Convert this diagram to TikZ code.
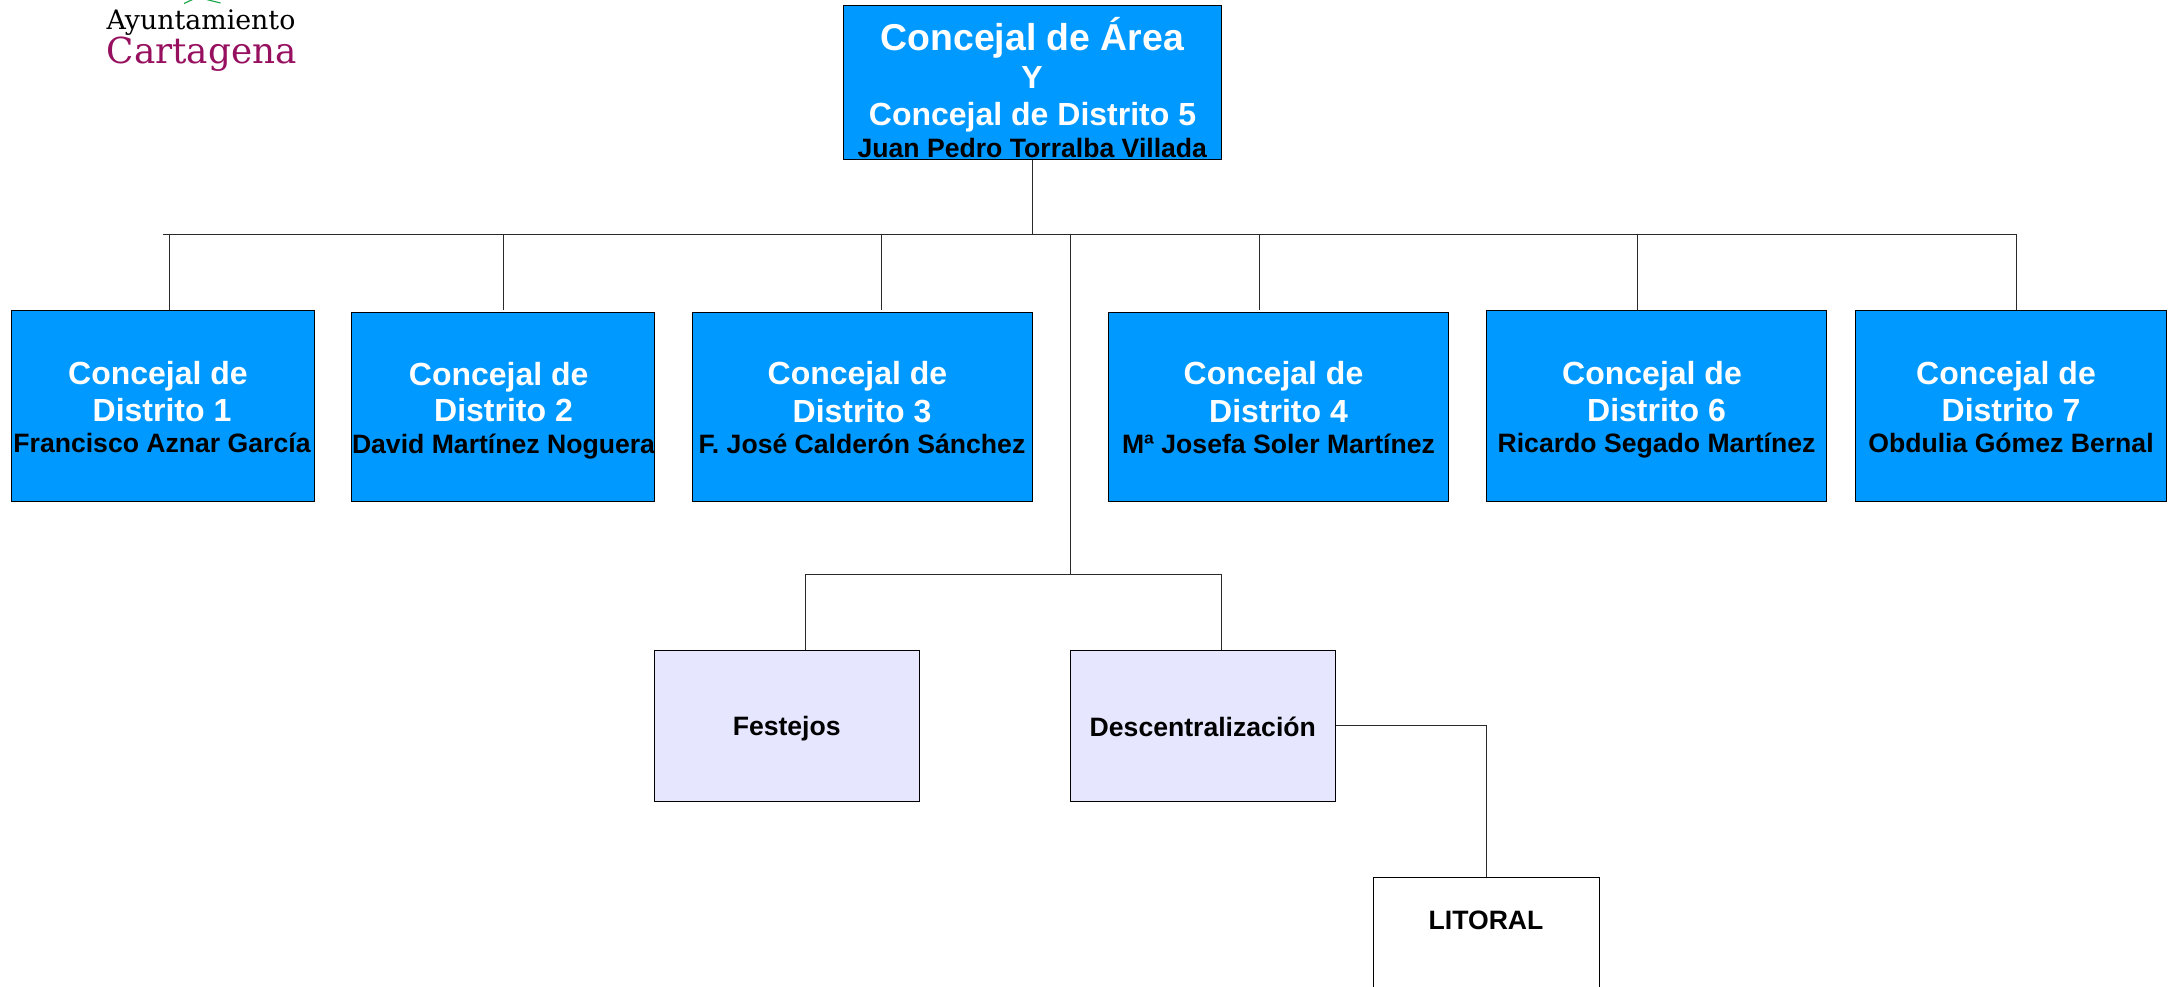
\documentclass[tikz,border=0pt]{standalone}
\usepackage{fontspec}
\setmainfont{Liberation Sans}
\newfontfamily\logofont{DejaVu Serif}
\definecolor{boxblue}{HTML}{0099FF}
\definecolor{boxlilac}{HTML}{E6E6FF}
\definecolor{wine}{HTML}{97105F}
\definecolor{logogreen}{HTML}{1FA84F}
\definecolor{linegrey}{HTML}{2A2A2A}
\newcommand{\sized}[1]{\fontsize{#1}{#1}\selectfont}
\newcommand{\orgbox}[6]{%
  \pgfmathsetmacro{\bw}{#5-#3}\pgfmathsetmacro{\bh}{#6-#4}%
  \node[#2,anchor=north west,minimum width=\bw pt,minimum height=\bh pt] (#1) at (#3,#4) {};}
\newcommand{\distbox}[9]{%
  \orgbox{d#1}{bluebox}{#2}{#3}{#4}{501.5}
  \node[whitetxt,anchor=base] (d#1a) at (#5,#7) {Concejal de};
  \node[whitetxt,anchor=base] (d#1b) at (#6,#8) {Distrito #1};
  \coordinate (d#1c) at (#6,#9);}
\tikzset{
  bluebox/.style={draw=black,fill=boxblue,line width=1pt,inner sep=0pt},
  lilacbox/.style={draw=black,fill=boxlilac,line width=1pt,inner sep=0pt},
  plainbox/.style={draw=black,fill=white,line width=1pt,inner sep=0pt},
  whitetxt/.style={text=white,font=\sized{32}\bfseries,inner sep=0pt},
  blacktxt/.style={text=black,font=\sized{26.6}\bfseries,inner sep=0pt},
  conn/.style={draw=linegrey,line width=1pt},
}
\begin{document}
\begin{tikzpicture}[x=1pt,y=-1pt]
\useasboundingbox (0.5,0.5) rectangle (2170.5,986.5);
\clip (0.5,0.5) rectangle (2170.5,986.5);
% logo
\draw[logogreen,line width=1.2pt] (184.5,4) -- (193,0);
\draw[logogreen,line width=1.2pt] (207,0) -- (221,3.5);
\node[anchor=base west,inner sep=0pt,font=\logofont\sized{26.8}] (logoA) at (107,29.5) {Ayuntamiento};
\node[anchor=base west,inner sep=0pt,font=\logofont\sized{35.8},text=wine] (logoB) at (107,64) {Cartagena};
% top box
\orgbox{top}{bluebox}{843.5}{5.5}{1221.5}{159}
\node[whitetxt,font=\sized{37.4}\bfseries,anchor=base] (t1) at (1032.8,51) {Concejal de Área};
\node[whitetxt,anchor=base] (t2) at (1032.6,88.5) {Y};
\node[whitetxt,anchor=base] (t3) at (1033,125.8) {Concejal de Distrito 5};
\node[blacktxt,anchor=base] (t4) at (1032.8,158) {Juan Pedro Torralba Villada};
% district boxes
\distbox{1}{11.5}{310.5}{314.5}{158.5}{162.5}{384.5}{421.5}{452.5}
\node[blacktxt,anchor=base] (n1) at (d1c) {Francisco Aznar García};
\distbox{2}{351.5}{312.5}{654.5}{499.2}{504}{385.5}{422}{453.5}
\node[blacktxt,anchor=base] (n2) at (d2c) {David Martínez Noguera};
\distbox{3}{692.5}{312.5}{1032.5}{858}{862.5}{385}{422.7}{453.5}
\node[blacktxt,anchor=base] (n3) at (d3c) {F. José Calderón Sánchez};
\distbox{4}{1108.5}{312.5}{1448.5}{1274}{1279}{385}{422.7}{453.5}
\node[blacktxt,anchor=base] (n4) at (d4c) {Mª Josefa Soler Martínez};
\distbox{6}{1486.5}{310.5}{1826.5}{1652.5}{1657}{384.5}{421.5}{452.5}
\node[blacktxt,anchor=base] (n6) at (d6c) {Ricardo Segado Martínez};
\distbox{7}{1855.5}{310.5}{2166.5}{2006.5}{2011.5}{384.5}{421.5}{452.5}
\node[blacktxt,anchor=base] (n7) at (d7c) {Obdulia Gómez Bernal};
% lower boxes
\orgbox{fest}{lilacbox}{654.5}{650.5}{919}{801.5}
\node[blacktxt,anchor=base] (festT) at (787.2,736) {Festejos};
\orgbox{desc}{lilacbox}{1070.5}{650.5}{1335}{801.5}
\node[blacktxt,anchor=base] (descT) at (1203.3,737) {Descentralización};
\orgbox{lit}{plainbox}{1373}{877.5}{1599.5}{1010}
\node[blacktxt,anchor=base] (litT) at (1486.5,930) {LITORAL};
% connector points
\coordinate (busL) at (163,235);
\coordinate (busR) at (2016.5,235);
\coordinate (bus1) at (169.7,235);
\coordinate (bus2) at (503.7,235);
\coordinate (bus3) at (881.7,235);
\coordinate (busC) at (1070.7,235);
\coordinate (bus4) at (1259.7,235);
\coordinate (bus6) at (1637.7,235);
\coordinate (end2) at (503.7,310);
\coordinate (end3) at (881.7,310);
\coordinate (end4) at (1259.7,310);
\coordinate (sub) at (1070.7,575);
\coordinate (subL) at (806,575);
\coordinate (subR) at (1222,575);
\coordinate (litTurn) at (1486.5,726);
% connectors
\draw[conn] (top.south) -- (top.south |- busL);
\draw[conn] (busL) -- (busR) -- (busR |- d7.north);
\draw[conn] (bus1) -- (bus1 |- d1.north);
\draw[conn] (bus2) -- (end2);
\draw[conn] (bus3) -- (end3);
\draw[conn] (bus4) -- (end4);
\draw[conn] (bus6) -- (bus6 |- d6.north);
\draw[conn] (busC) -- (sub);
\draw[conn] (subL |- fest.north) -- (subL) -- (subR) -- (subR |- desc.north);
\draw[conn] (desc.east |- litTurn) -- (litTurn) -- (litTurn |- lit.north);
\end{tikzpicture}
\end{document}
